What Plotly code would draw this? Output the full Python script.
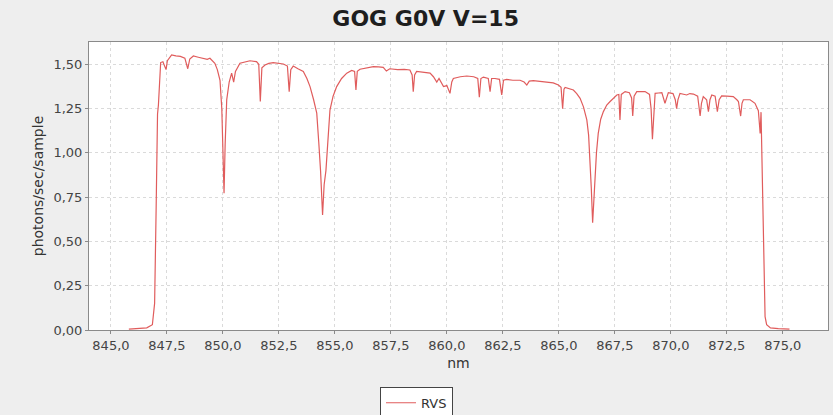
import plotly.graph_objects as go

wavelength_nm = [
    845.8, 846.2, 846.6, 846.85, 846.95, 847.02, 847.08, 847.12, 847.17, 847.22,
    847.32, 847.40, 847.46, 847.52, 847.71, 847.9, 848.1, 848.3, 848.43, 848.52,
    848.68, 848.9, 849.1, 849.3, 849.42, 849.55, 849.64, 849.75, 849.87, 849.95,
    850.00, 850.05, 850.10, 850.17, 850.28, 850.39, 850.48, 850.56, 850.76, 851.0,
    851.21, 851.5, 851.6, 851.67, 851.74, 851.88, 852.05, 852.25, 852.5, 852.70,
    852.88, 852.96, 853.03, 853.14, 853.35, 853.59, 853.75, 853.89, 854.05, 854.19,
    854.28, 854.36, 854.45, 854.52, 854.60, 854.70, 854.78, 854.92, 855.08, 855.3,
    855.53, 855.75, 855.88, 855.94, 856.0, 856.12, 856.4, 856.72, 856.95, 857.16,
    857.3, 857.45, 857.8, 858.1, 858.35, 858.45, 858.50, 858.56, 858.65, 858.95,
    859.25, 859.4, 859.55, 859.65, 859.85, 860.0, 860.14, 860.22, 860.29, 860.6,
    860.89, 861.2, 861.38, 861.45, 861.52, 861.63, 861.85, 861.93, 862.0, 862.15,
    862.35, 862.45, 862.53, 862.67, 862.95, 863.27, 863.45, 863.57, 863.68, 863.86,
    864.15, 864.46, 864.75, 864.98, 865.1, 865.17, 865.23, 865.28, 865.45, 865.65,
    865.80, 865.95, 866.1, 866.25, 866.33, 866.39, 866.45, 866.51, 866.57, 866.62,
    866.68, 866.76, 866.87, 866.99, 867.14, 867.29, 867.45, 867.59, 867.68, 867.73,
    867.79, 867.96, 868.15, 868.25, 868.30, 868.36, 868.48, 868.7, 868.85, 869.05,
    869.12, 869.18, 869.24, 869.30, 869.45, 869.60, 869.74, 869.89, 870.1, 870.2,
    870.26, 870.32, 870.41, 870.71, 870.85, 871.01, 871.2, 871.27, 871.31, 871.37,
    871.45, 871.6, 871.68, 871.75, 871.83, 871.98, 872.08, 872.16, 872.27, 872.5,
    872.79, 872.95, 873.02, 873.12, 873.18, 873.24, 873.54, 873.76, 873.91, 873.96,
    873.99, 874.03, 874.08, 874.13, 874.18, 874.21, 874.28, 874.45, 874.8, 875.3,
]

rvs_flux = [
    0.005, 0.008, 0.012, 0.03, 0.15, 0.7, 1.22, 1.27, 1.40, 1.51,
    1.515, 1.49, 1.47, 1.52, 1.553, 1.548, 1.545, 1.535, 1.475, 1.53,
    1.547, 1.54, 1.535, 1.528, 1.534, 1.515, 1.506, 1.47, 1.41, 1.25,
    1.0, 0.772, 1.05, 1.30, 1.40, 1.45, 1.40, 1.46, 1.506, 1.515,
    1.52, 1.515, 1.50, 1.29, 1.48, 1.496, 1.505, 1.51, 1.505, 1.502,
    1.49, 1.346, 1.47, 1.49, 1.475, 1.46, 1.42, 1.374, 1.30, 1.224,
    1.06, 0.90, 0.649, 0.82, 0.90, 1.10, 1.242, 1.32, 1.374, 1.42,
    1.45, 1.465, 1.46, 1.355, 1.46, 1.472, 1.48, 1.487, 1.485, 1.483,
    1.462, 1.475, 1.47, 1.472, 1.468, 1.44, 1.346, 1.44, 1.46, 1.455,
    1.45, 1.43, 1.40, 1.42, 1.374, 1.38, 1.336, 1.40, 1.42, 1.43,
    1.434, 1.43, 1.42, 1.314, 1.42, 1.428, 1.42, 1.346, 1.42, 1.42,
    1.415, 1.327, 1.41, 1.415, 1.41, 1.41, 1.40, 1.383, 1.405, 1.408,
    1.405, 1.40, 1.395, 1.383, 1.37, 1.25, 1.36, 1.37, 1.365, 1.355,
    1.335, 1.308, 1.26, 1.186, 1.10, 0.98, 0.80, 0.606, 0.75, 0.885,
    1.00, 1.11, 1.19, 1.233, 1.27, 1.29, 1.31, 1.327, 1.33, 1.186,
    1.33, 1.346, 1.34, 1.31, 1.208, 1.32, 1.346, 1.345, 1.346, 1.33,
    1.25, 1.077, 1.25, 1.336, 1.338, 1.34, 1.28, 1.34, 1.335, 1.30,
    1.25, 1.30, 1.336, 1.327, 1.335, 1.332, 1.32, 1.26, 1.208, 1.28,
    1.318, 1.30, 1.233, 1.30, 1.327, 1.32, 1.233, 1.30, 1.322, 1.32,
    1.318, 1.30, 1.29, 1.208, 1.28, 1.30, 1.30, 1.28, 1.238, 1.16,
    1.11, 1.23, 0.9, 0.508, 0.2, 0.075, 0.03, 0.012, 0.008, 0.005,
]

x_ticks = [845.0, 847.5, 850.0, 852.5, 855.0, 857.5, 860.0, 862.5, 865.0, 867.5, 870.0, 872.5, 875.0]
y_ticks = [0.0, 0.25, 0.5, 0.75, 1.0, 1.25, 1.5]

FONT = "DejaVu Sans"
fig = go.Figure()
fig.add_trace(go.Scatter(
    x=wavelength_nm, y=rvs_flux, mode="lines", name="RVS",
    line=dict(color="#e05c5c", width=1.2),
))

fig.update_layout(
    width=833, height=415,
    paper_bgcolor="#eeeeee", plot_bgcolor="#ffffff",
    margin=dict(l=89, r=5, t=42, b=85, autoexpand=False),
    separators=", ",
    font=dict(family=FONT, size=13, color="#444444"),
    title=dict(text="<b>GOG G0V V=15</b>", x=0.511, xref="container", xanchor="center",
               y=0.956, yref="container", yanchor="middle",
               font=dict(family=FONT, size=22, color="#1e1e1e")),
    showlegend=True,
    legend=dict(orientation="h", xref="container", yref="container", x=0.5, y=0.068,
                xanchor="center", yanchor="top", bgcolor="#ffffff",
                bordercolor="#444444", borderwidth=1,
                font=dict(family=FONT, size=13, color="#333333"),
                itemwidth=30, tracegroupgap=0),
)

fig.update_xaxes(
    range=[844.02, 877.02], tickvals=x_ticks, tickformat=".1f", automargin=False,
    showgrid=True, gridcolor="#dadada", griddash="3px,3px", gridwidth=1,
    showline=True, linecolor="#8a8a8a", linewidth=1, mirror=True,
    ticks="outside", ticklen=3, tickcolor="#8a8a8a", zeroline=False,
    title=dict(text="nm", font=dict(family=FONT, size=14, color="#333333"), standoff=6),
    tickfont=dict(family=FONT, size=13, color="#444444"),
)
fig.update_yaxes(
    range=[0, 1.626], tickvals=y_ticks, tickformat=".2f", automargin=False,
    showgrid=True, gridcolor="#dadada", griddash="3px,3px", gridwidth=1,
    showline=True, linecolor="#8a8a8a", linewidth=1, mirror=True,
    ticks="outside", ticklen=3, tickcolor="#8a8a8a", zeroline=False,
    title=dict(text="photons/sec/sample", font=dict(family=FONT, size=14, color="#333333"), standoff=6),
    tickfont=dict(family=FONT, size=13, color="#444444"),
)

fig.write_html(
    "out.html",
    config={"displayModeBar": False},
    post_script="document.body.style.margin='0';document.body.style.padding='0';document.body.style.overflow='hidden';",
)
